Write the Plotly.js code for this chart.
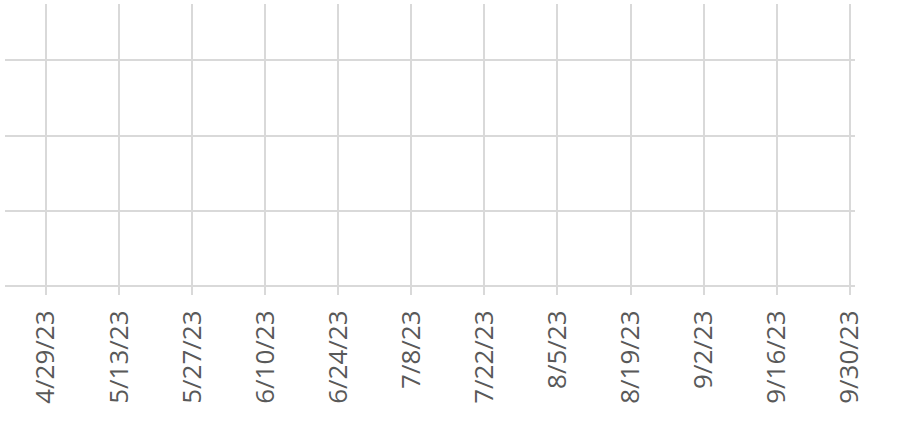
<!DOCTYPE html>
<html>
<head>
<meta charset="utf-8">
<script src="https://cdn.plot.ly/plotly-3.0.1.min.js"></script>
<style>html,body{margin:0;padding:0;background:#fff;}#chart{width:917px;height:433px;}</style>
</head>
<body>
<div id="chart"></div>
<script>
// Tick dates (x axis) and labels as shown
const tickDates = ['2023-04-29','2023-05-13','2023-05-27','2023-06-10','2023-06-24','2023-07-08','2023-07-22','2023-08-05','2023-08-19','2023-09-02','2023-09-16','2023-09-30'];
const tickLabels = ['4/29/23','5/13/23','5/27/23','6/10/23','6/24/23','7/8/23','7/22/23','8/5/23','8/19/23','9/2/23','9/16/23','9/30/23'];
// The chart shows no plotted values
const seriesDates = [];
const seriesValues = [];
const yGridVals = [0, 1, 2, 3];

const grid = '#d9d9d9';
const trace = {
  x: seriesDates, y: seriesValues, type: 'scatter', mode: 'lines',
  line: {color: '#4472c4'}, showlegend: false, hoverinfo: 'skip'
};
const layout = {
  width: 917, height: 433,
  margin: {l: 5, r: 62, t: 4, b: 147},
  paper_bgcolor: '#fff', plot_bgcolor: '#fff',
  showlegend: false,
  xaxis: {
    type: 'date',
    range: ['2023-04-21 03:30', '2023-10-01'],
    tickmode: 'array', tickvals: tickDates, ticktext: tickLabels,
    tickangle: -90,
    showgrid: true, gridcolor: grid, gridwidth: 2,
    ticks: 'outside', ticklen: 8, tickcolor: grid, tickwidth: 2,
    ticklabelstandoff: 5,
    showline: false, zeroline: false,
    tickfont: {family: 'Open Sans, sans-serif', size: 26, color: '#595959'},
    fixedrange: true
  },
  yaxis: {
    range: [0, 3.75],
    tickmode: 'array', tickvals: yGridVals, showticklabels: false,
    showgrid: true, gridcolor: grid, gridwidth: 2,
    zeroline: true, zerolinecolor: grid, zerolinewidth: 2,
    showline: false, ticks: '',
    fixedrange: true
  }
};
Plotly.newPlot('chart', [trace], layout, {displayModeBar: false, staticPlot: true});
</script>
</body>
</html>
